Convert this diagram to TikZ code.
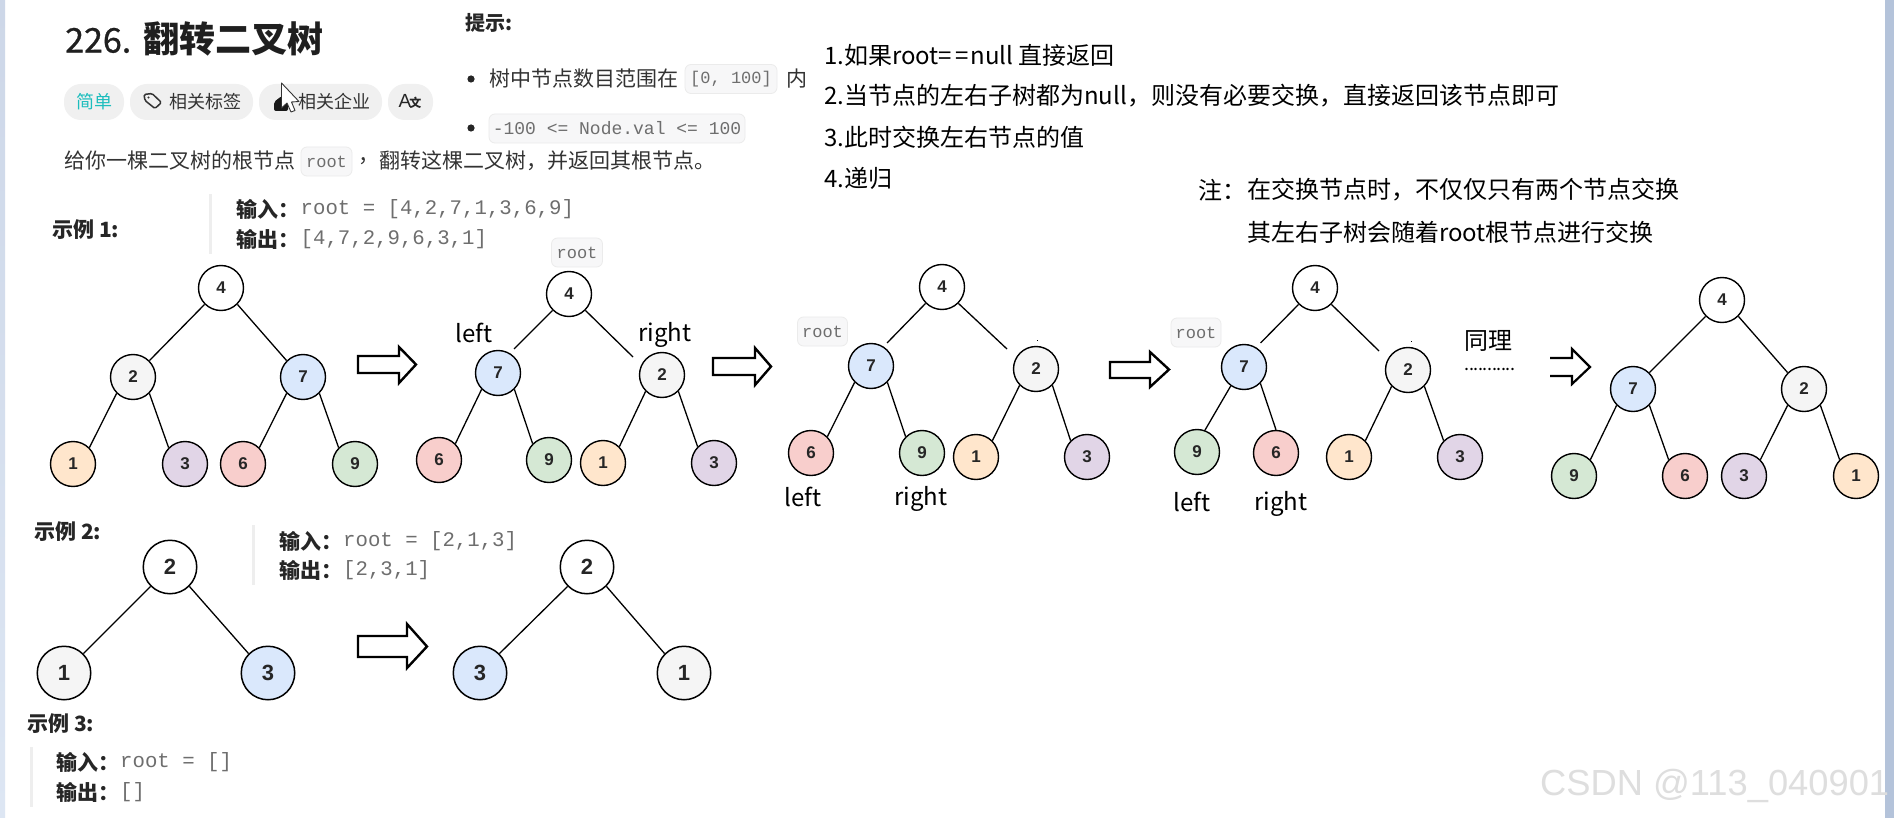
\documentclass[tikz,border=0pt]{standalone}
\usepackage{fontspec}
\setmainfont{Noto Sans CJK SC}
\newfontfamily\monof{Liberation Mono}
\newfontfamily\latf{Liberation Sans}
\newfontfamily\cjkf{Noto Sans CJK SC}
\newfontfamily\titled[FakeBold=0.8]{Noto Sans CJK SC}
\newcommand{\fsz}[1]{\fontsize{#1}{#1}\selectfont}
\definecolor{cwhite}{HTML}{FFFFFF}
\definecolor{cgray}{HTML}{F5F5F5}
\definecolor{cblue}{HTML}{DAE8FC}
\definecolor{corange}{HTML}{FFE6CC}
\definecolor{cpurple}{HTML}{E1D5E7}
\definecolor{cred}{HTML}{F8CECC}
\definecolor{cgreen}{HTML}{D5E8D4}
\definecolor{bodyc}{HTML}{333333}
\definecolor{codec}{HTML}{6E6E6E}
\definecolor{pillc}{HTML}{F0F0F0}
\definecolor{badgef}{HTML}{F7F7F8}
\definecolor{badged}{HTML}{EBEBEB}
\definecolor{barc}{HTML}{EEEEEE}
\definecolor{tealc}{HTML}{1CBDBD}
\definecolor{stripa}{HTML}{CDD7E8}
\definecolor{stripb}{HTML}{DDE6F3}
\definecolor{stripc}{HTML}{B4C3DA}
\tikzset{
  tn/.style={circle,draw=black,line width=1.4pt,minimum size=45pt,inner sep=0pt,font=\latf\bfseries\fsz{17},text=black!85},
  tb/.style={circle,draw=black,line width=1.5pt,minimum size=53.5pt,inner sep=0pt,font=\latf\bfseries\fsz{22},text=black!85},
  edge/.style={draw=black,line width=1.3pt},
  blockarrow/.style={draw=black,fill=white,line width=2.4pt,miter limit=10},
  lbl/.style={inner sep=0pt,font=\fsz{24},text=black},
  hand/.style={inner sep=0pt,anchor=west,font=\fsz{24},text=black},
  body/.style={inner sep=0pt,anchor=west,font=\fsz{21},text=bodyc},
  ex/.style={inner sep=0pt,anchor=west,font=\bfseries\fsz{21},text=black!85},
  io/.style={inner sep=0pt,anchor=west,font=\bfseries\fsz{21},text=black!85},
  code/.style={inner sep=0pt,anchor=west,font=\monof\fsz{20.7},text=codec},
  pill/.style={fill=pillc,rounded corners=17pt,inner sep=0pt,minimum height=36pt},
  pilltext/.style={inner sep=0pt,font=\fsz{18},text=bodyc},
  badge/.style={draw=badged,fill=badgef,line width=.8pt,rounded corners=6pt,inner sep=0pt,minimum height=29pt,font=\monof\fsz{17},text=codec},
  bar/.style={fill=barc},
}
\begin{document}
\begin{tikzpicture}[x=1pt,y=-1pt]
\useasboundingbox (0,0) rectangle (1894,818);
\fill[white] (0,0) rectangle (1894,818);
% window edges
\fill[top color=stripa,bottom color=stripb] (0,0) rectangle (5,818);
\fill[stripc] (1885,0) rectangle (1894,818);

% header
\node[inner sep=0pt,anchor=west,text=black!88] (title) at (65,39) {{\titled\fsz{34}226.}\hspace{12pt}{\bfseries\fsz{36}翻转二叉树}};
\node[pill,minimum width=60pt] (p1) at (94,102) {};
\node[pilltext,text=tealc] (p1t) at (94,102) {简单};
\node[pill,minimum width=123pt] (p2) at (191.5,102) {};
\node[pilltext] (p2t) at (205,102) {相关标签};
\draw[draw=bodyc,line width=1.5pt,rounded corners=1.5pt] (144,94.5) -- (152,93.5) -- (161.5,102.5) -- (155,108.5) -- (145,100.5) -- cycle;
\fill[bodyc] (148.5,97.5) circle (1.2);
\node[pill,minimum width=123pt] (p3) at (320.5,102) {};
\node[pilltext] (p3t) at (334,102) {相关企业};
\fill[black!90,rounded corners=2pt] (274,102) -- (279,98) -- (282,96) -- (288,103) -- (288,111) -- (274,111) -- cycle;
\draw[draw=black!80,fill=white,line width=.9pt,line join=round] (281.5,83) -- (281.5,108) -- (287,103) -- (291,112) -- (295,110.5) -- (291.5,102) -- (299,101.5) -- cycle;
\node[pill,minimum width=45pt] (p4) at (410.5,102) {};
\node[inner sep=0pt,font=\latf\fsz{19},text=black!85] (p4t) at (410,102) {A\kern-2pt{\cjkf\fsz{12}\bfseries 文}};

\node[inner sep=0pt,anchor=west,font=\bfseries\fsz{20},text=black!85] (tip) at (465,23) {提示:};
\fill[black!85] (471,79) circle (3.6);
\node[body] (b1) at (489,79) {树中节点数目范围在};
\node[badge,minimum width=92pt] (b1c) at (731,79) {[0, 100]};
\node[body] (b1e) at (786,79) {内};
\fill[black!85] (471,128) circle (3.6);
\node[badge,minimum width=256pt,font=\monof\fsz{18}] (b2c) at (617,128.5) {-100 <= Node.val <= 100};

\node[body] (d1) at (64,161) {给你一棵二叉树的根节点};
\node[badge,minimum width=51pt] (d1c) at (326.5,161.5) {root};
\node[body] (d2) at (358,161) {，};
\node[body] (d3) at (379,161) {翻转这棵二叉树，并返回其根节点。};

% example 1
\node[ex] (e1) at (52,230) {示例 1:};
\fill[bar] (208.5,194) rectangle (212,254);
\node[io] (i1) at (236,209) {输入：};
\node[code] (i1v) at (300.5,209) {root = [4,2,7,1,3,6,9]};
\node[io] (o1) at (236,239) {输出：};
\node[code] (o1v) at (300.5,239) {[4,7,2,9,6,3,1]};
\node[badge,minimum width=51pt] (rt1) at (577,252.5) {root};

% notes
\node[hand] (n1) at (824,55) {1.如果root=\kern3pt=\kern2pt null 直接返回};
\node[hand] (n2) at (824,96) {2.当节点的左右子树都为null，则没有必要交换，直接返回该节点即可};
\node[hand] (n3) at (824,137) {3.此时交换左右节点的值};
\node[hand] (n4) at (824,178) {4.递归};
\node[hand] (n5) at (1198,190) {注：};
\node[hand] (n6) at (1247,190) {在交换节点时，不仅仅只有两个节点交换};
\node[hand] (n7) at (1247,232) {其左右子树会随着root根节点进行交换};

% tree 1
\node[tn,fill=cwhite] (a4) at (221,288) {4};
\node[tn,fill=cgray] (a2) at (133,377) {2};
\node[tn,fill=cblue] (a7) at (303,377) {7};
\node[tn,fill=corange] (a1) at (73,464) {1};
\node[tn,fill=cpurple] (a3) at (185,464) {3};
\node[tn,fill=cred] (a6) at (243,464) {6};
\node[tn,fill=cgreen] (a9) at (355,464) {9};
\draw[edge] (a4.south west)--(a2.north east) (a4.south east)--(a7.north west)
  (a2.south west)--(a1.north east) (a2.south east)--(a3.north west)
  (a7.south west)--(a6.north east) (a7.south east)--(a9.north west);

\draw[blockarrow] (358,356) -- (399,356) -- (399,347) -- (416,364.5) -- (399,383) -- (399,373) -- (358,373) -- cycle;

% tree 2
\node[tn,fill=cwhite] (b4) at (569,294) {4};
\node[tn,fill=cblue] (b7) at (498,373) {7};
\node[tn,fill=cgray] (b2) at (662,375) {2};
\node[tn,fill=cred] (b6) at (439,460) {6};
\node[tn,fill=cgreen] (b9) at (549,460) {9};
\node[tn,fill=corange] (b1n) at (603,463) {1};
\node[tn,fill=cpurple] (b3) at (714,463) {3};
\coordinate (b4l) at (514,349);
\coordinate (b4r) at (633,357);
\draw[edge] (b4.south west)--(b4l) (b4.south east)--(b4r)
  (b7.south west)--(b6.north east) (b7.south east)--(b9.north west)
  (b2.south west)--(b1n.north east) (b2.south east)--(b3.north west);
\node[lbl] (bl) at (474,333) {left};
\node[lbl] (br) at (665,335) {right};

\draw[blockarrow] (713,358) -- (755,358) -- (755,348) -- (771,366.5) -- (755,385) -- (755,375) -- (713,375) -- cycle;

% tree 3
\node[badge,minimum width=50pt] (rt3) at (822.5,331.5) {root};
\node[tn,fill=cwhite] (c4) at (942,287) {4};
\node[tn,fill=cblue] (c7) at (871,366) {7};
\node[tn,fill=cgray] (c2) at (1036,369) {2};
\node[tn,fill=cred] (c6) at (811,453) {6};
\node[tn,fill=cgreen] (c9) at (922,453) {9};
\node[tn,fill=corange] (c1) at (976,457) {1};
\node[tn,fill=cpurple] (c3) at (1087,457) {3};
\coordinate (c4l) at (887,343);
\coordinate (c4r) at (1007,349);
\draw[edge] (c4.south west)--(c4l) (c4.south east)--(c4r)
  (c7.south west)--(c6.north east) (c7.south east)--(c9.north west)
  (c2.south west)--(c1.north east) (c2.south east)--(c3.north west);
\fill[black] (1036.5,339.5) rectangle (1038,341);
\node[lbl] (cl) at (803,497) {left};
\node[lbl] (cr) at (921,499) {right};

\draw[blockarrow] (1110,362) -- (1150,362) -- (1150,352) -- (1169,369.5) -- (1150,387) -- (1150,378) -- (1110,378) -- cycle;

% tree 4
\node[badge,minimum width=50pt] (rt4) at (1196,332.5) {root};
\node[tn,fill=cwhite] (d4) at (1315,288) {4};
\node[tn,fill=cblue] (d7) at (1244,367) {7};
\node[tn,fill=cgray] (d2) at (1408,370) {2};
\node[tn,fill=cgreen] (d9) at (1197,452) {9};
\node[tn,fill=cred] (d6) at (1276,453) {6};
\node[tn,fill=corange] (d1n) at (1349,457) {1};
\node[tn,fill=cpurple] (d3n) at (1460,457) {3};
\coordinate (d4l) at (1260.5,343);
\coordinate (d4r) at (1379,351);
\draw[edge] (d4.south west)--(d4l) (d4.south east)--(d4r)
  (d7.235)--(d9.70) (d7.south east)--(d6.north)
  (d2.south west)--(d1n.north east) (d2.south east)--(d3n.north west);
\fill[black] (1410.5,340.5) rectangle (1412,342);
\node[lbl] (dl) at (1192,502) {left};
\node[lbl] (dr) at (1281,504) {right};

\node[inner sep=0pt,font=\fsz{24},text=black] (tl) at (1488,341) {同理};
\node[inner sep=0pt,font=\fsz{18},text=black] (dots) at (1490,369) {\kern0pt.\kern-.4pt.\kern-.4pt.\kern-.4pt.\kern-.4pt.\kern-.4pt.\kern-.4pt.\kern-.4pt.\kern-.4pt.\kern-.4pt.\kern-.4pt.};

\draw[draw=black,line width=2.2pt,miter limit=10] (1550,358) -- (1572,358) -- (1572,349) -- (1590,367) -- (1572,384) -- (1572,376) -- (1550,376);

% tree 5
\node[tn,fill=cwhite] (e4) at (1722,300) {4};
\node[tn,fill=cblue] (e7) at (1633,389) {7};
\node[tn,fill=cgray] (e2) at (1804,389) {2};
\node[tn,fill=cgreen] (e9) at (1574,476) {9};
\node[tn,fill=cred] (e6) at (1685,476) {6};
\node[tn,fill=cpurple] (e3) at (1744,476) {3};
\node[tn,fill=corange] (e1n) at (1856,476) {1};
\draw[edge] (e4.south west)--(e7.north east) (e4.south east)--(e2.north west)
  (e7.south west)--(e9.north east) (e7.south east)--(e6.north west)
  (e2.south west)--(e3.north east) (e2.south east)--(e1n.north west);

% example 2
\node[ex] (e2t) at (34,532) {示例 2:};
\fill[bar] (251.5,525) rectangle (255,585);
\node[io] (i2) at (279,541) {输入：};
\node[code] (i2v) at (343,541) {root = [2,1,3]};
\node[io] (o2) at (279,570) {输出：};
\node[code] (o2v) at (343,570) {[2,3,1]};
\node[tb,fill=cwhite] (f2) at (170,567) {2};
\node[tb,fill=cgray] (f1) at (64,673) {1};
\node[tb,fill=cblue] (f3) at (268,673) {3};
\draw[edge] (f2.south west)--(f1.north east) (f2.south east)--(f3.north west);
\draw[blockarrow] (358,636) -- (407,636) -- (407,624) -- (427,646.5) -- (407,668) -- (407,657) -- (358,657) -- cycle;
\node[tb,fill=cwhite] (g2) at (587,567) {2};
\node[tb,fill=cblue] (g3) at (480,673) {3};
\node[tb,fill=cgray] (g1) at (684,673) {1};
\draw[edge] (g2.south west)--(g3.north east) (g2.south east)--(g1.north west);

% example 3
\node[ex] (e3t) at (27,724) {示例 3:};
\fill[bar] (29.5,747) rectangle (33,807);
\node[io] (i3) at (56,762) {输入：};
\node[code] (i3v) at (120,762) {root = []};
\node[io] (o3) at (56,792) {输出：};
\node[code] (o3v) at (120,792) {[]};

% watermark
\node[inner sep=0pt,anchor=west,font=\latf\fsz{36.3},text=black!13,draw=none] (wm) at (1540,786) {CSDN @113\_040901};
\end{tikzpicture}
\end{document}
